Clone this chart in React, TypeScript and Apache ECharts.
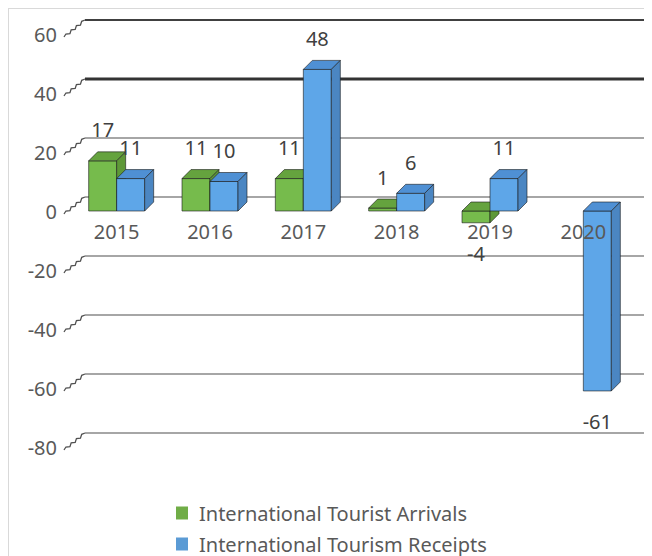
import React, { useEffect, useRef } from "react";
import * as echarts from "echarts";

const categories = ["2015", "2016", "2017", "2018", "2019", "2020"];
const arrivals: (number | null)[] = [17, 11, 11, 1, -4, null];
const receipts: number[] = [11, 10, 48, 6, 11, -61];
const yTicks: number[] = [60, 40, 20, 0, -20, -40, -60, -80];
const seriesNames = ["International Tourist Arrivals", "International Tourism Receipts"];

const Y_MIN = -80;
const Y_MAX = 60;
const GRID_H = 413;
const WALL_DX = 15;
const WALL_DY = -14;
const BAR_D = 9;
const FONT = '"Noto Sans", "DejaVu Sans", sans-serif';
const FS = 20;
const TEXT_COLOR = "#595959";

const GREEN = { front: "#76bb4c", top: "#65a33e", side: "#5e9838", legend: "#70ad47" };
const BLUE = { front: "#5ea6e8", top: "#4f90d4", side: "#4b86c2", legend: "#5b9bd5" };

function makeBarRender(slot: number, c: { front: string; top: string; side: string }) {
  return (params: any, api: any) => {
    const v = api.value(1);
    if (v == null || isNaN(v)) return null;
    const idx = api.value(0);
    const pv = api.coord([idx, v]);
    const p0 = api.coord([idx, 0]);
    const bw = api.size([1, 0])[0] * 0.3;
    const cx = pv[0];
    const x0 = slot === 0 ? cx - bw : cx;
    const x1 = x0 + bw;
    const yTop = Math.min(pv[1], p0[1]);
    const yBot = Math.max(pv[1], p0[1]);
    const d = BAR_D;
    const stroke = "rgba(25,25,25,0.75)";
    const labelY = v >= 0 ? yTop - 31 : yBot + 31;
    return {
      type: "group",
      children: [
        {
          type: "rect",
          shape: { x: x0, y: yTop, width: bw, height: yBot - yTop },
          style: { fill: c.front, stroke, lineWidth: 0.8 },
        },
        {
          type: "polygon",
          shape: { points: [[x0, yTop], [x0 + d, yTop - d], [x1 + d, yTop - d], [x1, yTop]] },
          style: { fill: c.top, stroke, lineWidth: 0.8 },
        },
        {
          type: "polygon",
          shape: { points: [[x1, yTop], [x1 + d, yTop - d], [x1 + d, yBot - d], [x1, yBot]] },
          style: { fill: c.side, stroke, lineWidth: 0.8 },
        },
        {
          type: "text",
          z2: 10,
          style: {
            text: String(v),
            x: (x0 + x1) / 2,
            y: labelY,
            fill: "#404040",
            font: `${FS}px ${FONT}`,
            align: "center",
            verticalAlign: "middle",
          },
        },
      ],
    };
  };
}

function gridRender(params: any, api: any) {
  const v = api.value(1);
  const cs = params.coordSys;
  const y = api.coord([0, v])[1];
  const left = cs.x;
  const right = cs.x + cs.width;
  let color = "#a6a6a6";
  let width = 1.8;
  if (v === 40) {
    color = "#333333";
    width = 3.2;
  } else if (v === 60) {
    color = "#404040";
    width = 2;
  }
  const sx = left - 6, sy = y + 3;
  const ex = left + WALL_DX, ey = y + WALL_DY;
  const pts: number[][] = [];
  const n = 8;
  const len = Math.hypot(ex - sx, ey - sy);
  const nx = -(ey - sy) / len, ny = (ex - sx) / len;
  for (let i = 0; i <= n; i++) {
    const t = i / n;
    const o = i === 0 || i === n ? 0 : (i % 2 === 0 ? 1 : -1) * 1.1;
    pts.push([sx + (ex - sx) * t + nx * o, sy + (ey - sy) * t + ny * o]);
  }
  return {
    type: "group",
    children: [
      {
        type: "line",
        shape: { x1: left + WALL_DX, y1: y + WALL_DY, x2: right + WALL_DX, y2: y + WALL_DY },
        style: { stroke: color, lineWidth: width },
      },
      {
        type: "polyline",
        shape: { points: pts },
        style: { stroke: "#505050", lineWidth: 1.3, fill: null },
      },
    ],
  };
}

const legendBase = {
  orient: "vertical",
  left: 162,
  itemWidth: 12,
  itemHeight: 13,
  icon: "rect",
  textStyle: { fontSize: FS, color: TEXT_COLOR, fontFamily: FONT, lineHeight: 22, padding: [0, 0, 0, 6] },
};

export default function App() {
  const ref = useRef<HTMLDivElement>(null);
  useEffect(() => {
    if (!ref.current) return;
    const chart = echarts.init(ref.current, null, { renderer: "svg" });
    const zeroOffset = -GRID_H * (0 - Y_MIN) / (Y_MAX - Y_MIN);
    chart.setOption({
      animation: false,
      backgroundColor: "#ffffff",
      grid: { left: 61, top: 25, width: 560, height: GRID_H },
      legend: [
        { ...legendBase, data: [seriesNames[0]], top: 488 },
        { ...legendBase, data: [seriesNames[1]], top: 519 },
      ],
      xAxis: {
        type: "category",
        data: categories,
        boundaryGap: true,
        offset: zeroOffset,
        z: 20,
        axisLine: { show: false, onZero: false },
        axisTick: { show: false },
        axisLabel: { fontSize: FS, color: TEXT_COLOR, fontFamily: FONT, margin: 10 },
        splitLine: { show: false },
      },
      yAxis: {
        type: "value",
        min: Y_MIN,
        max: Y_MAX,
        interval: 20,
        axisLine: { show: false },
        axisTick: { show: false },
        splitLine: { show: false },
        axisLabel: { fontSize: FS, color: TEXT_COLOR, fontFamily: FONT, margin: 13 },
      },
      series: [
        {
          type: "custom",
          name: "gridlines",
          silent: true,
          renderItem: gridRender,
          data: yTicks.map((v) => [0, v]),
          z: 1,
        },
        {
          type: "custom",
          name: seriesNames[0],
          renderItem: makeBarRender(0, GREEN),
          itemStyle: { color: GREEN.legend },
          data: arrivals.map((v, i) => [i, v === null ? "-" : v]),
          z: 2,
        },
        {
          type: "custom",
          name: seriesNames[1],
          renderItem: makeBarRender(1, BLUE),
          itemStyle: { color: BLUE.legend },
          data: receipts.map((v, i) => [i, v]),
          z: 3,
        },
      ],
    });
    return () => chart.dispose();
  }, []);
  return (
    <div
      style={{
        width: 644,
        height: 548,
        borderTop: "1px solid #d9d9d9",
        borderLeft: "1px solid #d9d9d9",
        boxSizing: "border-box",
        background: "#fff",
      }}
    >
      <div ref={ref} style={{ width: 643, height: 547 }} />
    </div>
  );
}
